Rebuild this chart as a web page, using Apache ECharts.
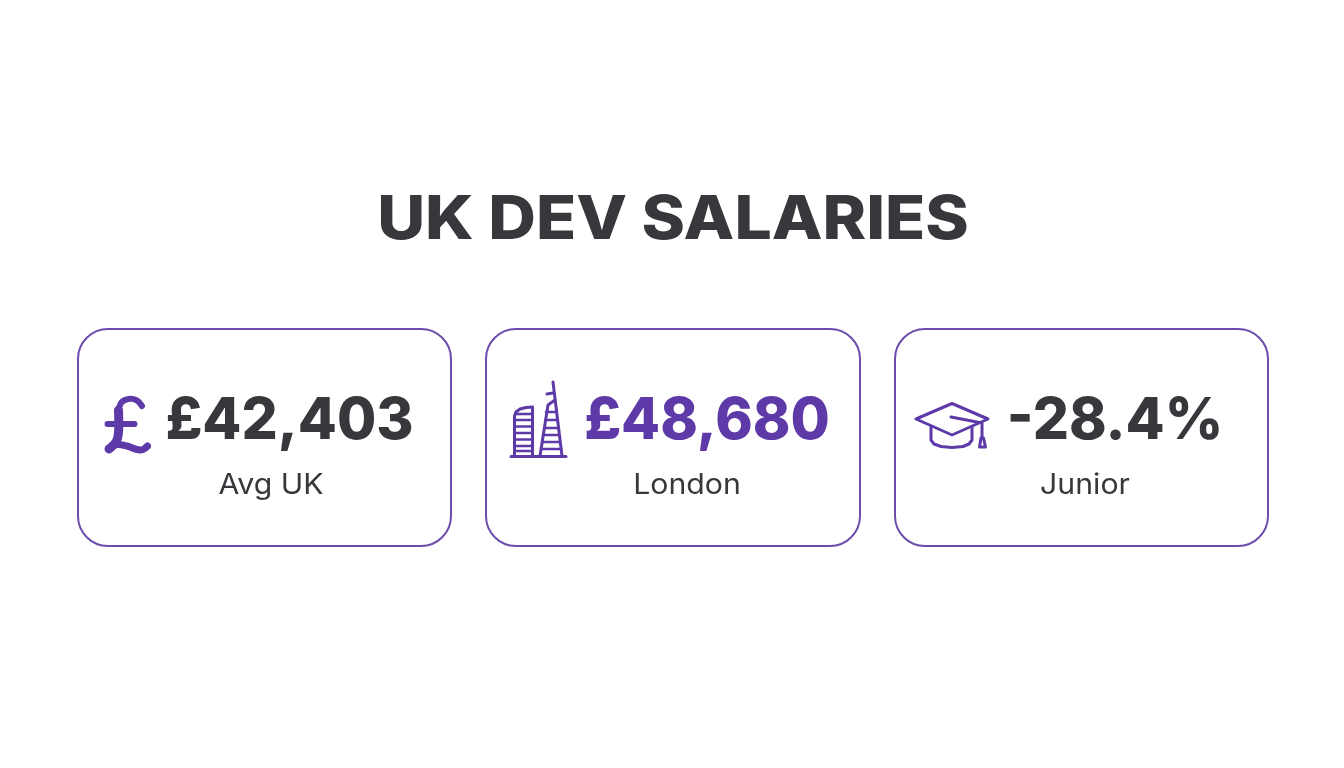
<!DOCTYPE html>
<html>
<head>
<meta charset="utf-8">
<title>UK Dev Salaries</title>
<style>
html,body{margin:0;padding:0;background:#fff}
#chart{width:1344px;height:768px}
</style>
<script src="https://cdn.jsdelivr.net/npm/echarts@6/dist/echarts.min.js"></script>
</head>
<body>
<div id="chart"></div>
<script>
// data
var chartTitle = 'UK DEV SALARIES';
var cardValues = ['£42,403', '£48,680', '-28.4%'];
var cardLabels = ['Avg UK', 'London', 'Junior'];
var valueColors = ['#36383c', '#5e3aa8', '#36383c'];

// layout
var FONT = 'Inter, "Noto Sans", sans-serif';
var PURPLE = '#5e3aa8';
var DARK = '#36383c';
var cardLeft = [78, 486, 895];
var cardWidth = [373, 374, 373];
var valueX = [289.5, 707, 1115];
var labelX = [271, 687, 1085];

var chart = echarts.init(document.getElementById('chart'));
var elements = [];

function txt(x, y, s, size, weight, color, sx) {
    elements.push({
        type: 'text',
        x: x, y: y, scaleX: sx || 1,
        style: {
            text: s, fontFamily: FONT, fontSize: size, fontWeight: weight,
            fill: color, align: 'center', verticalAlign: 'middle'
        }
    });
}
// icon strokes
function stroke(points, w, smooth) {
    elements.push({
        type: 'polyline',
        shape: {points: points, smooth: smooth || 0},
        style: {fill: 'none', stroke: PURPLE, lineWidth: w || 3, lineJoin: 'round', lineCap: 'round'}
    });
}

txt(673, 221, chartTitle, 60, 800, DARK, 1.1);

cardValues.forEach(function (v, i) {
    elements.push({
        type: 'rect',
        shape: {x: cardLeft[i], y: 329, width: cardWidth[i], height: 217, r: 30},
        style: {fill: '#fff', stroke: '#6d4dac', lineWidth: 2}
    });
    txt(valueX[i], 422, v, 58, 800, valueColors[i], 0.98);
    txt(labelX[i], 486, cardLabels[i], 28, 400, DARK, 1.08);
});

// pound icon
stroke([[142, 406], [137, 400.5], [128.5, 399], [121, 403], [118.5, 413]], 6, 0.35);
stroke([[118.5, 410], [118.5, 433], [116, 442], [109, 449]], 9, 0.3);
stroke([[109, 449], [117, 444.5], [127, 446], [137, 449.5], [143, 449.5], [147.5, 446]], 7, 0.35);
stroke([[107.5, 424], [134.5, 424]], 6);

// london skyline icon
stroke([[511, 456.5], [566, 456.5]]);
stroke([[514.5, 456], [514.5, 416], [516, 412], [520, 409], [526, 407.5], [532.5, 407], [532.5, 456]]);
[414, 420, 426.5, 433, 439.5, 446, 451].forEach(function (y) {
    stroke([[515, y], [532, y]], 2.4);
});
stroke([[540, 456], [548, 405], [555, 400]]);
stroke([[547, 394], [553, 393]]);
stroke([[553, 382], [562, 456]]);
[[546, 412, 556], [545, 420, 557], [544, 428, 558], [543, 435, 559], [542, 442, 560], [541, 449, 561]].forEach(function (r) {
    stroke([[r[0], r[1]], [r[2], r[1]]], 2.4);
});

// graduation cap icon
stroke([[916, 419], [952, 403.5], [988, 419], [952, 435], [916, 419]]);
stroke([[931, 427], [931, 440], [934, 444], [941, 446.5], [952, 447.5], [963, 446.5], [969, 444], [972, 440], [972, 427]]);
stroke([[951, 417], [982, 423], [982, 438]]);
stroke([[979.5, 447], [981, 438], [983.5, 438], [985.5, 447], [979.5, 447]]);

chart.setOption({
    animation: false,
    backgroundColor: '#fff',
    graphic: {elements: elements}
});
</script>
</body>
</html>
